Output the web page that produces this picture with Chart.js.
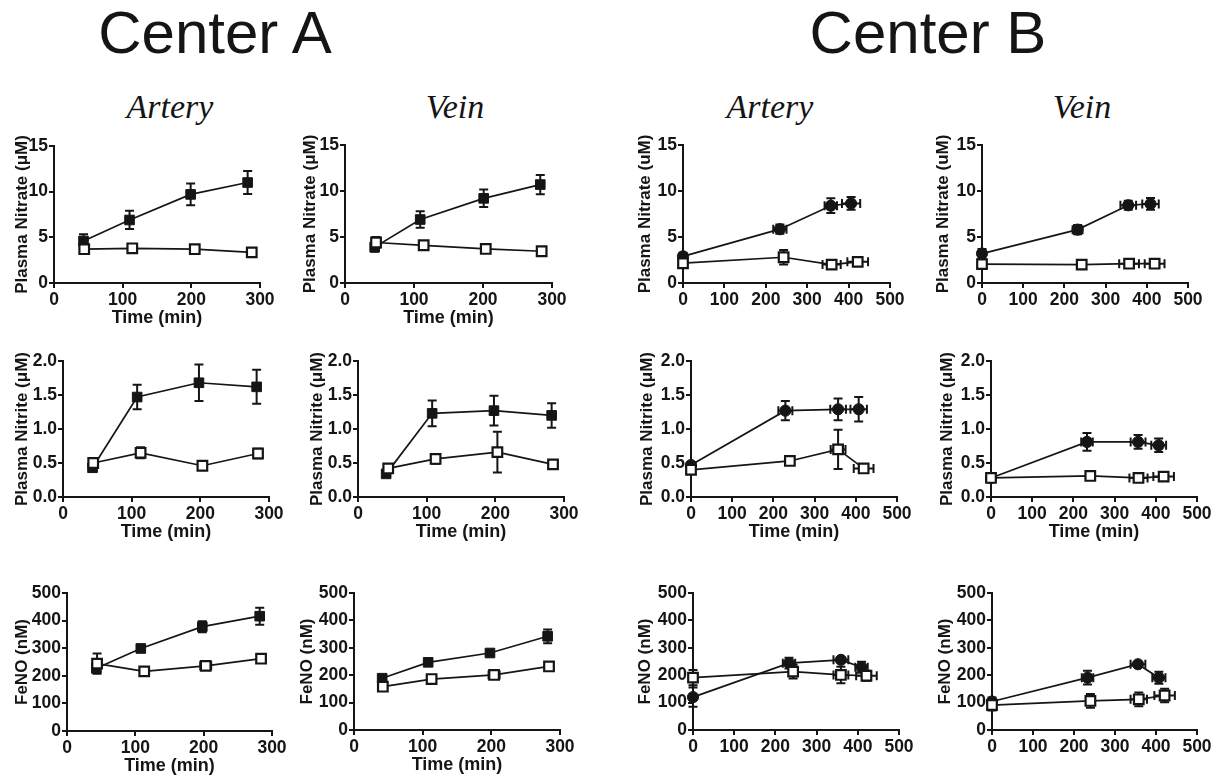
<!DOCTYPE html>
<html><head><meta charset="utf-8">
<script src="https://cdn.jsdelivr.net/npm/chart.js@4.4.0/dist/chart.umd.min.js"></script>
<style>
html,body{margin:0;padding:0;background:#fff;width:1213px;height:781px;overflow:hidden;position:relative;}
canvas{position:absolute;}
.title{position:absolute;font-family:"Liberation Sans",Arial,sans-serif;font-size:60px;color:#151515;transform:translate(-50%,-50%);white-space:nowrap;}
.sub{position:absolute;font-family:"Liberation Serif","Times New Roman",serif;font-style:italic;font-size:34px;color:#151515;transform:translate(-50%,-50%);white-space:nowrap;}
</style></head><body>
<div class="title" style="left:215px;top:32px">Center A</div>
<div class="title" style="left:928px;top:32px">Center B</div>
<div class="sub" style="left:170px;top:107px">Artery</div>
<div class="sub" style="left:455px;top:107px">Vein</div>
<div class="sub" style="left:770px;top:107px">Artery</div>
<div class="sub" style="left:1082px;top:107px">Vein</div>
<script>
// ---- tick label arrays ----
const X_TICKS_A = [0, 100, 200, 300];
const X_TICKS_B = [0, 100, 200, 300, 400, 500];
const NITRATE_TICKS = [0, 5, 10, 15];
const NITRITE_TICKS = [0, 0.5, 1.0, 1.5, 2.0];
const FENO_TICKS = [0, 100, 200, 300, 400, 500];

// ---- data: [time (min), mean, y error, x error] ----
const A_ART_NITRATE_FILLED = [[43,4.6,0.75,0],[110,6.9,1.0,0],[199,9.7,1.2,0],[282,11.0,1.25,0]];
const A_ART_NITRATE_OPEN   = [[44,3.7,0.4,0],[114,3.8,0.4,0],[205,3.7,0.3,5],[288,3.35,0.3,4]];
const A_VEIN_NITRATE_FILLED= [[43,3.9,0.5,0],[109,6.9,0.9,0],[201,9.2,0.95,0],[283,10.7,1.05,0]];
const A_VEIN_NITRATE_OPEN  = [[45,4.4,0.6,0],[114,4.1,0.35,0],[204,3.7,0.3,6],[285,3.45,0.3,5]];
const B_ART_NITRATE_FILLED = [[0,2.9,0.4,0],[234,5.85,0.5,16],[357,8.4,0.8,15],[406,8.65,0.7,22]];
const B_ART_NITRATE_OPEN   = [[0,2.15,0.2,0],[243,2.8,0.8,0],[359,2.0,0.2,22],[422,2.3,0.4,25]];
const B_VEIN_NITRATE_FILLED= [[0,3.2,0.5,0],[232,5.8,0.5,12],[355,8.45,0.5,19],[409,8.6,0.65,20]];
const B_VEIN_NITRATE_OPEN  = [[0,2.05,0.1,0],[242,2.0,0.1,0],[357,2.1,0.1,24],[419,2.1,0.1,24]];

const A_ART_NITRITE_FILLED = [[43,0.43,0.05,0],[108,1.47,0.18,0],[198,1.68,0.27,0],[282,1.62,0.25,0]];
const A_ART_NITRITE_OPEN   = [[44,0.5,0.07,0],[113,0.65,0.08,0],[203,0.46,0.05,0],[284,0.64,0.07,4]];
const A_VEIN_NITRITE_FILLED= [[41,0.34,0.04,0],[108,1.23,0.19,0],[198,1.27,0.22,0],[282,1.2,0.18,0]];
const A_VEIN_NITRITE_OPEN  = [[44,0.42,0.06,0],[113,0.56,0.07,0],[203,0.66,0.3,0],[284,0.48,0.04,6]];
const B_ART_NITRITE_FILLED = [[0,0.47,0.04,0],[229,1.27,0.14,17],[357,1.29,0.16,19],[407,1.29,0.18,20]];
const B_ART_NITRITE_OPEN   = [[0,0.4,0.03,0],[240,0.53,0.03,0],[357,0.7,0.29,18],[419,0.42,0.03,24]];
const B_VEIN_NITRITE_FILLED= [[0,0.28,0.02,0],[233,0.81,0.13,14],[357,0.81,0.1,18],[407,0.76,0.1,18]];
const B_VEIN_NITRITE_OPEN  = [[0,0.28,0.02,0],[241,0.31,0.02,0],[358,0.28,0.03,22],[419,0.3,0.03,25]];

const A_ART_FENO_FILLED    = [[43,227,15,0],[108,299,8,0],[198,378,20,0],[282,416,31,0]];
const A_ART_FENO_OPEN      = [[44,244,37,0],[113,216,10,0],[203,236,10,8],[284,262,10,5]];
const A_VEIN_FENO_FILLED   = [[41,189,8,0],[108,247,5,0],[198,281,8,0],[282,342,25,0]];
const A_VEIN_FENO_OPEN     = [[42,158,10,0],[113,186,6,0],[204,201,6,8],[284,232,15,6]];
const B_ART_FENO_FILLED    = [[0,120,35,0],[233,244,20,15],[359,256,8,18],[409,229,20,15]];
const B_ART_FENO_OPEN      = [[0,191,28,0],[243,213,25,0],[359,201,30,18],[421,198,18,25]];
const B_VEIN_FENO_FILLED   = [[0,104,15,0],[233,191,25,14],[356,240,8,18],[407,191,22,16]];
const B_VEIN_FENO_OPEN     = [[0,91,20,0],[240,106,25,0],[358,112,25,20],[421,126,25,25]];

const TXT = '#151515';
const FONT = '"Liberation Sans", Arial, sans-serif';

// ---- panel layout (plot-area rectangles in page pixels) ----
const panels = [
  {L:54, T:146,R:260, B:283, tx:22,  xt:true,  xTicks:X_TICKS_A, yTicks:NITRATE_TICKS, yTitle:'Plasma Nitrate (\u03bcM)', open:A_ART_NITRATE_OPEN, filled:A_ART_NITRATE_FILLED, circ:false},
  {L:345,T:145,R:552, B:283, tx:310, xt:true,  xTicks:X_TICKS_A, yTicks:NITRATE_TICKS, yTitle:'Plasma Nitrate (\u03bcM)', open:A_VEIN_NITRATE_OPEN, filled:A_VEIN_NITRATE_FILLED, circ:false},
  {L:683,T:145,R:890, B:283, tx:645, xt:false, xTicks:X_TICKS_B, yTicks:NITRATE_TICKS, yTitle:'Plasma Nitrate (uM)', open:B_ART_NITRATE_OPEN, filled:B_ART_NITRATE_FILLED, circ:true},
  {L:982,T:145,R:1188,B:283, tx:943, xt:false, xTicks:X_TICKS_B, yTicks:NITRATE_TICKS, yTitle:'Plasma Nitrate (uM)', open:B_VEIN_NITRATE_OPEN, filled:B_VEIN_NITRATE_FILLED, circ:true},
  {L:63, T:361,R:269, B:497, tx:22,  xt:true,  xTicks:X_TICKS_A, yTicks:NITRITE_TICKS, yTitle:'Plasma Nitrite (\u03bcM)', open:A_ART_NITRITE_OPEN, filled:A_ART_NITRITE_FILLED, circ:false, dec:1},
  {L:358,T:361,R:564, B:497, tx:317, xt:true,  xTicks:X_TICKS_A, yTicks:NITRITE_TICKS, yTitle:'Plasma Nitrite (\u03bcM)', open:A_VEIN_NITRITE_OPEN, filled:A_VEIN_NITRITE_FILLED, circ:false, dec:1},
  {L:691,T:361,R:897, B:497, tx:647, xt:true,  xTicks:X_TICKS_B, yTicks:NITRITE_TICKS, yTitle:'Plasma Nitrite (\u03bcM)', open:B_ART_NITRITE_OPEN, filled:B_ART_NITRITE_FILLED, circ:true, dec:1},
  {L:991,T:361,R:1197,B:497, tx:947, xt:true,  xTicks:X_TICKS_B, yTicks:NITRITE_TICKS, yTitle:'Plasma Nitrite (\u03bcM)', open:B_VEIN_NITRITE_OPEN, filled:B_VEIN_NITRITE_FILLED, circ:true, dec:1},
  {L:67, T:593,R:272, B:731, tx:22,  xt:true,  xTicks:X_TICKS_A, yTicks:FENO_TICKS, yTitle:'FeNO (nM)', open:A_ART_FENO_OPEN, filled:A_ART_FENO_FILLED, circ:false},
  {L:354,T:593,R:560, B:730, tx:307, xt:true,  xTicks:X_TICKS_A, yTicks:FENO_TICKS, yTitle:'FeNO (nM)', open:A_VEIN_FENO_OPEN, filled:A_VEIN_FENO_FILLED, circ:false},
  {L:693,T:593,R:899, B:730, tx:645, xt:false, xTicks:X_TICKS_B, yTicks:FENO_TICKS, yTitle:'FeNO (nM)', open:B_ART_FENO_OPEN, filled:B_ART_FENO_FILLED, circ:true},
  {L:992,T:593,R:1197,B:730, tx:945, xt:false, xTicks:X_TICKS_B, yTicks:FENO_TICKS, yTitle:'FeNO (nM)', open:B_VEIN_FENO_OPEN, filled:B_VEIN_FENO_FILLED, circ:true}
];

const errorBars = {
  id: 'errorBars',
  beforeDatasetsDraw(chart) {
    const {ctx, scales: {x, y}} = chart;
    const cap = 4.5;
    ctx.save();
    ctx.strokeStyle = TXT;
    ctx.lineWidth = 2;
    chart.data.datasets.forEach(ds => {
      ds.data.forEach(p => {
        const px = x.getPixelForValue(p.x), py = y.getPixelForValue(p.y);
        ctx.beginPath();
        if (p.ey) {
          const y1 = y.getPixelForValue(p.y + p.ey), y2 = y.getPixelForValue(p.y - p.ey);
          ctx.moveTo(px, y1); ctx.lineTo(px, y2);
          ctx.moveTo(px - cap, y1); ctx.lineTo(px + cap, y1);
          ctx.moveTo(px - cap, y2); ctx.lineTo(px + cap, y2);
        }
        if (p.ex) {
          const x1 = x.getPixelForValue(p.x - p.ex), x2 = x.getPixelForValue(p.x + p.ex);
          ctx.moveTo(x1, py); ctx.lineTo(x2, py);
          ctx.moveTo(x1, py - cap); ctx.lineTo(x1, py + cap);
          ctx.moveTo(x2, py - cap); ctx.lineTo(x2, py + cap);
        }
        ctx.stroke();
      });
    });
    ctx.restore();
  }
};

const PADL = 60, PADT = 20, PADR = 18, XH = 50;
const toPts = arr => arr.map(r => ({x: r[0], y: r[1], ey: r[2], ex: r[3]}));

panels.forEach(p => {
  const c = document.createElement('canvas');
  const w = p.R - p.L + PADL + PADR, h = p.B - p.T + PADT + XH;
  c.width = w; c.height = h;
  c.style.left = (p.L - PADL) + 'px';
  c.style.top = (p.T - PADT) + 'px';
  c.style.width = w + 'px'; c.style.height = h + 'px';
  document.body.appendChild(c);
  const tickFont = {family: FONT, size: 17.5, weight: 'bold'};
  const gridOpt = {display: true, drawOnChartArea: false, drawTicks: true, tickLength: 5, color: TXT, lineWidth: 2};
  new Chart(c, {
    type: 'scatter',
    data: {
      datasets: [
        {data: toPts(p.open), showLine: true, borderColor: TXT, borderWidth: 1.7, pointStyle: 'rect',
         pointRadius: 6.8, pointBackgroundColor: '#fff', pointBorderColor: TXT, pointBorderWidth: 2.2, clip: false},
        {data: toPts(p.filled), showLine: true, borderColor: TXT, borderWidth: 1.7, pointStyle: p.circ ? 'circle' : 'rect',
         pointRadius: p.circ ? 5.6 : 6.8, pointBackgroundColor: TXT, pointBorderColor: TXT, pointBorderWidth: 1, clip: false}
      ]
    },
    options: {
      responsive: false, animation: false, devicePixelRatio: 1,
      layout: {padding: {left: 0, top: PADT, right: PADR, bottom: 0}},
      plugins: {legend: {display: false}, tooltip: {enabled: false}},
      scales: {
        x: {
          type: 'linear', min: p.xTicks[0], max: p.xTicks[p.xTicks.length - 1],
          afterBuildTicks: a => { a.ticks = p.xTicks.map(v => ({value: v})); },
          afterFit: a => { a.height = XH; },
          ticks: {font: tickFont, color: TXT, padding: 2, autoSkip: false, maxRotation: 0, callback: v => String(v)},
          grid: gridOpt, border: {display: true, color: TXT, width: 2},
          title: {display: p.xt, text: 'Time (min)', font: {family: FONT, size: 18, weight: 'bold'}, color: TXT,
                  padding: {top: 0, bottom: 3.8}}
        },
        y: {
          type: 'linear', min: p.yTicks[0], max: p.yTicks[p.yTicks.length - 1],
          afterBuildTicks: a => { a.ticks = p.yTicks.map(v => ({value: v})); },
          afterFit: a => { a.width = PADL; },
          ticks: {font: tickFont, color: TXT, padding: 1, autoSkip: false,
                  callback: v => p.dec ? Number(v).toFixed(p.dec) : String(v)},
          grid: gridOpt, border: {display: true, color: TXT, width: 2},
          title: {display: true, text: p.yTitle, font: {family: FONT, size: 17, weight: 'bold'}, color: TXT,
                  padding: {top: p.tx - (p.L - PADL) - 10.2, bottom: 0}}
        }
      }
    },
    plugins: [errorBars]
  });
});
</script>
</body></html>
